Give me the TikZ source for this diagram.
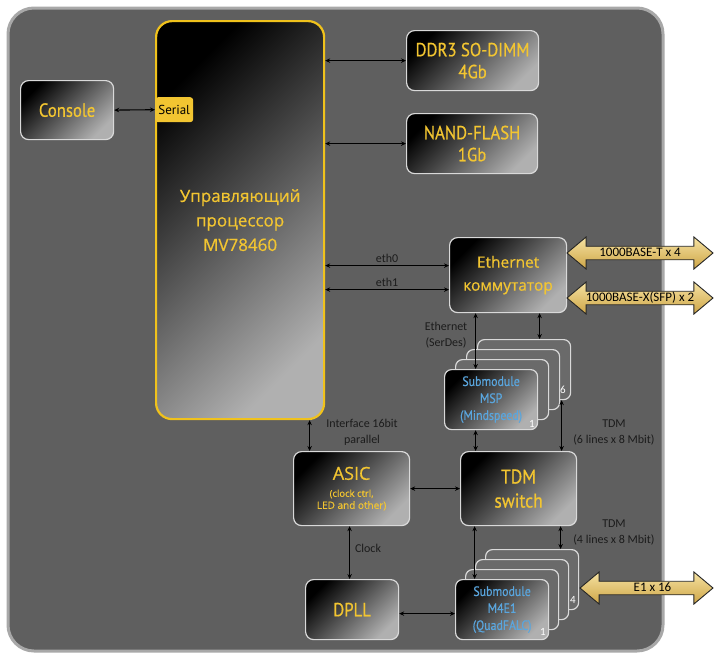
\documentclass[tikz,border=0pt]{standalone}
\usepackage{fontspec}
\setmainfont{Carlito}
\newfontfamily\ttl[FakeStretch=0.88,FakeBold=0.6]{PT Sans}
\newfontfamily\ptsans{PT Sans}
\newfontfamily\osans[FakeBold=0.6]{Open Sans}
\usetikzlibrary{arrows.meta,shapes.arrows,calc}
\definecolor{bgfill}{HTML}{5F5F5F}
\definecolor{bgline}{HTML}{A8A8A8}
\definecolor{ylw}{HTML}{F2C531}
\definecolor{cpuline}{HTML}{F0C21C}
\definecolor{boxline}{HTML}{D9D9D9}
\definecolor{boxend}{HTML}{B0B0B0}
\definecolor{bluetxt}{HTML}{5AA6DE}
\definecolor{lbl}{HTML}{1C1C1C}
\definecolor{cardfill}{HTML}{6A6A6A}
\definecolor{goldA}{HTML}{F6E3A2}
\definecolor{goldB}{HTML}{CDA446}
\begin{document}
\begin{tikzpicture}[x=1pt,y=-1pt,
  box/.style={rectangle, rounded corners=8pt, draw=boxline, line width=1.2pt,
     top color=black, bottom color=boxend, shading angle=45,
     anchor=north west, inner sep=0pt, align=center, text=ylw},
  card/.style={rectangle, rounded corners=7pt, draw=boxline, line width=1.2pt,
     fill=cardfill, anchor=north west, minimum width=93pt, minimum height=60pt},
  bi/.style={{Stealth[length=5pt,width=4.5pt]}-{Stealth[length=5pt,width=4.5pt]},
     line width=1.1pt, draw=black},
  lab/.style={text=lbl, font=\fontsize{12}{16}\selectfont, align=center, inner sep=0pt},
  num/.style={text=white, font=\fontsize{11}{11}\selectfont, inner sep=0pt},
  big/.style={double arrow, double arrow tip angle=80, double arrow head extend=9.25pt,
     draw=black!85, line width=0.9pt, top color=goldA, bottom color=goldB,
     text=black, font=\fontsize{13}{14}\selectfont, text height=9pt, text depth=3pt,
     inner ysep=0.3pt, inner xsep=2pt},
]
\useasboundingbox (0,0) rectangle (719,664);
\fill[white] (0,0) rectangle (719,664);
\draw[bgline, line width=3pt, fill=bgfill, rounded corners=26pt] (8,8) rectangle (663,651);

% processor
\node[box, draw=cpuline, line width=2.2pt, rounded corners=16pt, minimum width=168pt,
  minimum height=398pt, font=\osans\fontsize{17}{24.5}\selectfont] (cpu) at (155,20)
  {Управляющий\\процессор\\MV78460};
\node[rectangle, rounded corners=3pt, fill=ylw, anchor=north west, minimum width=38pt,
  minimum height=25pt, inner sep=0pt, text=black, font=\ptsans\fontsize{13}{14}\selectfont]
  (serial) at (155,97) {Serial};

\node[box, minimum width=93pt, minimum height=59pt, font=\ttl\fontsize{19}{22}\selectfont]
  (cons) at (20,80) {Console};
\node[box, minimum width=132pt, minimum height=60pt, font=\ttl\fontsize{19}{22}\selectfont]
  (ddr) at (406,30) {DDR3 SO-DIMM\\4Gb};
\node[box, minimum width=131pt, minimum height=60pt, font=\ttl\fontsize{19}{22}\selectfont]
  (nand) at (406,113) {NAND-FLASH\\1Gb};
\node[box, minimum width=117pt, minimum height=75pt, font=\osans\fontsize{15.5}{23}\selectfont]
  (eth) at (449,237) {Ethernet\\коммутатор};
\node[box, minimum width=116pt, minimum height=74pt, font=\osans] (asic) at (293,451)
  {\fontsize{18}{18}\selectfont ASIC\\[5pt]\fontsize{9.5}{13}\selectfont (clock ctrl,\\LED and other)};
\node[box, minimum width=116pt, minimum height=74pt, font=\ttl\fontsize{20}{24}\selectfont]
  (tdm) at (460,451) {TDM\\switch};
\node[box, minimum width=93pt, minimum height=60pt, font=\ttl\fontsize{19}{22}\selectfont]
  (dpll) at (305,579) {DPLL};

% MSP stack
\node[card] (msp4) at (477,339) {};
\node[card] (msp3) at (466,349) {};
\node[card] (msp2) at (455,359) {};
\node[box, rounded corners=7pt, minimum width=93pt, minimum height=60pt, text=bluetxt,
  font=\ttl\fontsize{13.5}{17}\selectfont] (msp1) at (444,369) {Submodule\\MSP\\(Mindspeed)};
\node[num] (n1a) at (532,424) {1};
\node[num] (n6) at (563,390) {6};

% M4E1 stack
\node[card] (m4d) at (485,549) {};
\node[card] (m4c) at (475,559) {};
\node[card] (m4b) at (465,569) {};
\node[box, rounded corners=7pt, minimum width=93pt, minimum height=60pt, text=bluetxt,
  font=\ttl\fontsize{13.5}{17}\selectfont] (m4a) at (455,579) {Submodule\\M4E1\\(QuadFALC)};
\node[num] (n1b) at (543,632) {1};
\node[num] (n4) at (573,600) {4};

% connectors
\draw[bi] (cons.east) -- (serial.west);
\draw[bi] (cpu.east |- ddr.west) -- (ddr.west);
\draw[bi] (cpu.east |- nand.west) -- (nand.west);
\coordinate (e0) at ([yshift=9.5pt]eth.west);
\coordinate (e1) at ([yshift=-14.5pt]eth.west);
\draw[bi] (cpu.east |- e0) -- (e0) node[midway, above=2pt, lab] {eth0};
\draw[bi] (cpu.east |- e1) -- (e1) node[midway, above=2pt, lab] {eth1};
\draw[bi] ([xshift=-15.5pt]msp1.north) -- ([xshift=-15.5pt]msp1.north |- eth.south);
\draw[bi] ([xshift=15.5pt]msp4.north) -- ([xshift=15.5pt]msp4.north |- eth.south);
\draw[bi] ([xshift=-15.5pt]msp1.south) -- ([xshift=-15.5pt]msp1.south |- tdm.north);
\draw[bi] ([xshift=37.5pt]msp4.south) -- ([xshift=37.5pt]msp4.south |- tdm.north);
\draw[bi] ([xshift=-42pt]asic.north) -- ([xshift=-42pt]asic.north |- cpu.south);
\draw[bi] (asic.east) -- (tdm.west);
\draw[bi] ([xshift=-2pt]asic.south) -- ([xshift=-2pt]asic.south |- dpll.north);
\draw[bi] ([yshift=-4pt]dpll.east) -- ([yshift=-4pt]dpll.east -| m4a.west);
\draw[bi] ([xshift=-27.5pt]m4a.north) -- ([xshift=-27.5pt]m4a.north |- tdm.south);
\draw[bi] ([xshift=28.5pt]m4d.north) -- ([xshift=28.5pt]m4d.north |- tdm.south);

% labels
\node[lab] (lEth) at (446,335) {Ethernet\\(SerDes)};
\node[lab] (lIf) at (362,432) {Interface 16bit\\parallel};
\node[lab] (lT6) at (614,432) {TDM\\(6 lines x 8 Mbit)};
\node[lab] (lT4) at (614,532) {TDM\\(4 lines x 8 Mbit)};
\node[lab] (lClk) at (368,548) {Clock};

% external links
\node[big, minimum height=146pt] (b1) at (640,253) {1000BASE-T x 4};
\node[big, minimum height=146pt] (b2) at (640,298) {1000BASE-X(SFP) x 2};
\node[big, minimum height=133pt] (b3) at (646.5,588) {\hspace*{12pt}E1 x 16};
\end{tikzpicture}
\end{document}
